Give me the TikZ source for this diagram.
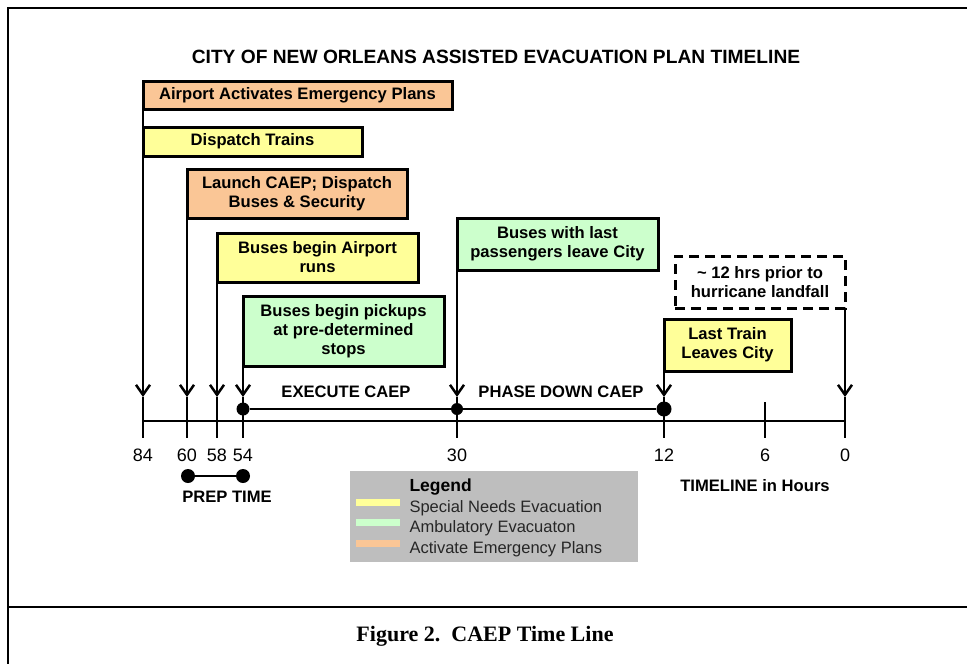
\documentclass[tikz,border=0pt]{standalone}
\usepackage{fontspec}
\setmainfont{Liberation Sans}
\newfontfamily\captionserif{Liberation Serif}
\usetikzlibrary{arrows.meta}

\definecolor{needsyellow}{RGB}{255,255,153}
\definecolor{ambugreen}{RGB}{204,255,204}
\definecolor{planorange}{RGB}{250,198,150}
\definecolor{legendgray}{RGB}{190,190,190}

\newcommand{\evfont}{\bfseries\fontsize{16.6}{19}\selectfont}

\begin{document}
\begin{tikzpicture}[x=1pt,y=-1pt,
	evbox/.style={draw=black,line width=3pt,outer sep=0pt,anchor=north west,align=center,inner sep=0pt,font=\evfont},
	evarrow/.style={line width=2.5pt,-{Straight Barb[length=10pt,width=14pt,line width=2.5pt]}},
	tickline/.style={line width=2.5pt},
	hourlabel/.style={font=\fontsize{18}{20}\selectfont},
	phaselabel/.style={font=\evfont},
	blackdot/.style={circle,fill=black,inner sep=0pt,minimum size=#1}]
	
	\useasboundingbox (0,0) rectangle (967,664);
	
	% frame and caption
	\draw[line width=2.5pt] (967,8) -- (8,8) -- (8,664);
	\draw[line width=2.5pt] (8,607) -- (967,607);
	\node[font=\captionserif\bfseries\fontsize{22}{25}\selectfont] (caption) at (485,636) {Figure 2.\ \ CAEP Time Line};
	
	\node[font=\bfseries\fontsize{19.2}{22}\selectfont] (title) at (496,57) {CITY OF NEW ORLEANS ASSISTED EVACUATION PLAN TIMELINE};
	
	% axis
	\draw[tickline] (143,421) -- (845,421);
	\foreach \x/\hr in {143/84,187/60,217/58,243/54,457/30,664/12,845/0}{
		\coordinate (h\hr) at (\x,397);
		\draw[tickline] (h\hr) -- (\x,438);
		\node[hourlabel] (n\hr) at (\x,455) {\hr};
	}
	\draw[tickline] (765,402) -- (765,438);
	\node[hourlabel] (n6) at (765,455) {6};
	
	% events
	\node[evbox,fill=planorange,minimum width=309,minimum height=28] (airport) at (143,81) {Airport Activates Emergency Plans};
	\draw[evarrow] (airport.south west) -- (h84);
	\node[evbox,fill=needsyellow,minimum width=219,minimum height=29] (trains) at (143,127) {Dispatch Trains};
	\node[evbox,fill=planorange,minimum width=220,minimum height=49] (launch) at (187,169) {Launch CAEP; Dispatch\\Buses \& Security};
	\node[evbox,fill=needsyellow,minimum width=201,minimum height=49] (airruns) at (217,233) {Buses begin Airport\\runs};
	\node[evbox,fill=ambugreen,minimum width=201,minimum height=70] (pickups) at (243,296) {Buses begin pickups\\at pre-determined\\stops};
	\node[evbox,fill=ambugreen,minimum width=201,minimum height=52] (lastpass) at (457,218) {Buses with last\\passengers leave City};
	\node[evbox,dash pattern=on 10pt off 6pt,fill=white,minimum width=170,minimum height=52] (landfall) at (675,256) {\textasciitilde\ 12 hrs prior to\\hurricane landfall};
	\node[evbox,fill=needsyellow,minimum width=127,minimum height=52] (lasttrain) at (664,319) {Last Train\\Leaves City};
	
	\draw[evarrow] (launch.south west) -- (h60);
	\draw[evarrow] (airruns.south west) -- (h58);
	\draw[evarrow] (pickups.south west) -- (h54);
	\draw[evarrow] (lastpass.south west) -- (h30);
	\draw[evarrow] (lasttrain.south west) -- (h12);
	\draw[evarrow] (landfall.south east) -- (h0);
	
	% phases
	\node[blackdot=13pt] (d54) at (243,409) {};
	\node[blackdot=12pt] (d30) at (457,409) {};
	\node[blackdot=15pt] (d12) at (664,409) {};
	\draw[tickline] (d54) -- (d30) -- (d12);
	\node[phaselabel] (execute) at (346,392) {EXECUTE CAEP};
	\node[phaselabel] (phasedown) at (561,392) {PHASE DOWN CAEP};
	
	\node[blackdot=14pt] (p60) at (188,476) {};
	\node[blackdot=14pt] (p54) at (243,476) {};
	\draw[tickline] (p60) -- (p54);
	\node[phaselabel] (prep) at (227,497) {PREP TIME};
	\node[phaselabel] (hours) at (755,486) {TIMELINE in Hours};
	
	% legend
	\node[fill=legendgray,minimum width=288,minimum height=91,anchor=north west,inner sep=0pt] (legend) at (350,471) {};
	\node[font=\bfseries\fontsize{17.5}{20}\selectfont,anchor=west] (legendhead) at (406,487) {Legend};
	\foreach \y/\c/\t in {508/needsyellow/Special Needs Evacuation,528/ambugreen/Ambulatory Evacuaton,549/planorange/Activate Emergency Plans}{
		\draw[\c,line width=7pt] (356,\y-6) -- (400,\y-6);
		\node[font=\fontsize{16.5}{19}\selectfont,anchor=west,text=black!85] (l\c) at (406,\y) {\t};
	}
	
\end{tikzpicture}
\end{document}
